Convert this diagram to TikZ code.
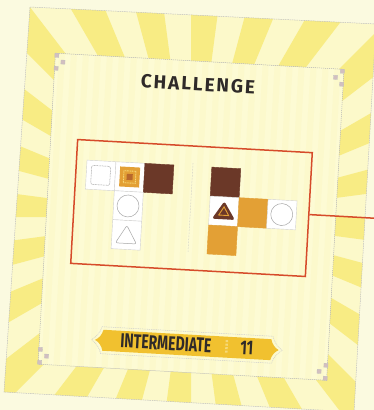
\documentclass[tikz,border=0pt]{standalone}
\usepackage{fontspec}
\usepackage{graphicx}
\newfontfamily\titlefont[LetterSpace=10]{Fira Sans}
\newfontfamily\levelfont{Fira Sans}
\definecolor{outside}{HTML}{FBFAE0}
\definecolor{cardbg}{HTML}{FCF9CA}
\definecolor{stripe}{HTML}{F8EC84}
\definecolor{panelbg}{HTML}{FDFBD4}
\definecolor{panelstripe}{HTML}{FCF9CC}
\definecolor{redc}{HTML}{D64B2A}
\definecolor{brownc}{HTML}{6B3828}
\definecolor{orangec}{HTML}{E3A035}
\definecolor{darkor}{HTML}{B8682C}
\definecolor{paleor}{HTML}{F6D978}
\definecolor{bannerc}{HTML}{F1C12F}
\definecolor{inkc}{HTML}{2F2A29}
\definecolor{orn}{HTML}{D2BFC0}
\tikzset{
  tile/.style={minimum size=29pt, inner sep=0pt, draw=black!18, line width=0.4pt, fill=white},
  browntile/.style={tile, fill=brownc, draw=brownc},
  orangetile/.style={tile, fill=orangec, draw=orangec},
  iconline/.style={draw=black!35, line width=0.5pt},
  redbox/.style={draw=redc, line width=1.5pt, minimum width=235pt, minimum height=124pt, inner sep=0pt},
  ornsq/.style={fill=orn, draw=black!25, line width=0.3pt},
}
\begin{document}
\begin{tikzpicture}[x=1pt,y=-1pt]
\useasboundingbox (0,0) rectangle (374,410);
\clip (0,0) rectangle (374,410);
\fill[outside] (0,0) rectangle (374,410);
% card with sunburst
\begin{scope}
  \clip (30,7) -- (376,24) -- (354,412) -- (4,392) -- cycle;
  \fill[cardbg] (0,0) rectangle (374,410);
  \foreach \a in {0,15,...,345}
    \fill[stripe] (191,217) -- +(\a:600) -- +(\a+7.5:600) -- cycle;
\end{scope}
\draw[black!25, line width=0.5pt, dash pattern=on 1.5pt off 0.8pt] (30,7) -- (376,24) -- (354,412) -- (4,392) -- cycle;
% rotated card content
\begin{scope}[rotate around={-3.2:(191,217)}, transform shape]
  \fill[panelbg] (46.5,61) rectangle (335.5,372.5);
  \foreach \x in {50,62,...,330}
    \fill[panelstripe] (\x,61) rectangle (\x+6,372.5);
  \draw[black!30, line width=0.5pt, dash pattern=on 1.2pt off 0.8pt] (46.5,61) rectangle (335.5,372.5);
  % corner ornaments
  \foreach \cx/\s in {46.5/1, 335.5/-1}{
    \foreach \cy/\t in {61/1, 372.5/-1}{
      \draw[ornsq] (\cx+\s*1.5-2,\cy+\t*2-2) rectangle ++(4,4);
      \draw[ornsq] (\cx+\s*8-2,\cy+\t*8.5-2) rectangle ++(4,4);
      \draw[ornsq] (\cx+\s*1.5-2,\cy+\t*15-2) rectangle ++(4,4);
    }
  }
  % title
  \node[font=\titlefont\bfseries\fontsize{19}{19}\selectfont, text=inkc] (title) at (190.6,84) {CHALLENGE};
  % red frame
  \node[redbox] (rb) at (191,208) {};
  \coordinate (lineend) at (440,208);
  \draw[redc, line width=1.5pt] (rb.east) -- (lineend);
  % separator
  \draw[black!25, line width=0.5pt, densely dotted] (190,163) -- (190,253);
  % left group
  \node[tile] (t1) at (98.5,180.5) {};
  \node[tile] (t2) at (127.5,180.5) {};
  \node[browntile] (t3) at (156.5,180.5) {};
  \node[tile] (t4) at (127.5,209.5) {};
  \node[tile] (t5) at (127.5,238.5) {};
  \draw[iconline, rounded corners=1.5pt, dash pattern=on 1pt off 0.6pt] (t1.center) ++(-9.5,-9.5) rectangle ++(19,19);
  \fill[orangec] (t2.center) ++(-10,-10) rectangle ++(20,20);
  \draw[paleor, line width=0.9pt, dash pattern=on 1pt off 0.7pt] (t2.center) ++(-6,-6) rectangle ++(12,12);
  \fill[darkor] (t2.center) ++(-3,-3) rectangle ++(6,6);
  \draw[iconline] (t4.center) circle[radius=11];
  \draw[iconline, rounded corners=2pt] (t5.center) ++(0,-9.5) -- ++(10.5,18) -- ++(-21,0) -- cycle;
  % right group
  \node[browntile] (r1) at (223.5,180.5) {};
  \node[tile] (r2) at (223.5,209.5) {};
  \node[orangetile] (r3) at (252.5,209.5) {};
  \node[tile] (r4) at (281.5,209.5) {};
  \node[orangetile] (r5) at (223.5,238.5) {};
  \fill[brownc, rounded corners=2.5pt] (r2.center) ++(0,-10) -- ++(11.5,18) -- ++(-23,0) -- cycle;
  \draw[orangec, line width=0.9pt] (r2.center) ++(0,-4.5) -- ++(5,8.5) -- ++(-10,0) -- cycle;
  \draw[iconline] (r4.center) circle[radius=11];
  % banner
  \draw[black!20, line width=0.5pt, dash pattern=on 1pt off 0.8pt]
    (108.5,331.5) -- (279.5,331.5) .. controls (281.5,338) and (285,342) .. (289.5,345)
    .. controls (285,348) and (281.5,352) .. (279.5,358.5) -- (108.5,358.5)
    .. controls (106.5,352) and (103,348) .. (98.5,345)
    .. controls (103,342) and (106.5,338) .. (108.5,331.5) -- cycle;
  \fill[bannerc]
    (110,334.5) -- (278,334.5) .. controls (279.5,340) and (282,343) .. (286,345)
    .. controls (282,347) and (279.5,350) .. (278,355.5) -- (110,355.5)
    .. controls (108.5,350) and (106,347) .. (102,345)
    .. controls (106,343) and (108.5,340) .. (110,334.5) -- cycle;
  \node[font=\levelfont\bfseries\fontsize{20}{20}\selectfont, text=inkc] (level) at (173,344.5) {\scalebox{0.7}[1]{INTERMEDIATE}};
  \node[font=\levelfont\bfseries\fontsize{20}{20}\selectfont, text=inkc] (num) at (254,344.5) {\scalebox{0.7}[1]{11}};
  \foreach \yy in {338,341.5,345,348.5}
    \fill[paleor] (232.5,\yy) rectangle ++(2.5,2);
\end{scope}
\end{tikzpicture}
\end{document}
